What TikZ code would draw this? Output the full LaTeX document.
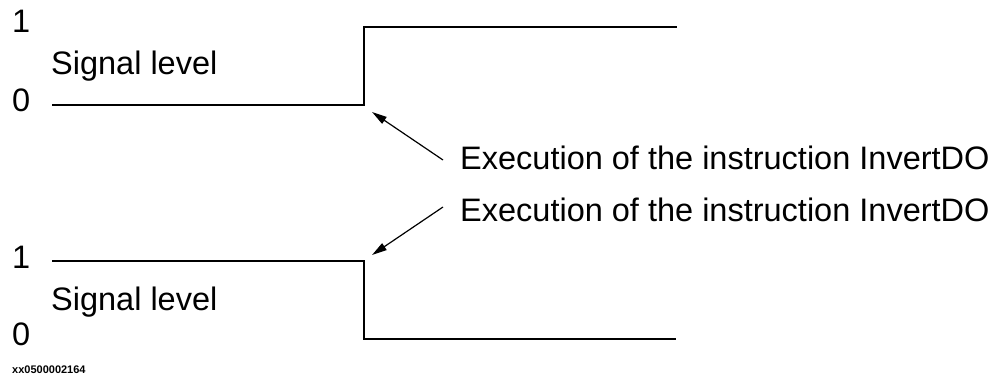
\documentclass[tikz,border=0pt]{standalone}
\usepackage{fontspec}
\setmainfont{Liberation Sans}
\usetikzlibrary{arrows.meta}
\begin{document}
\begin{tikzpicture}[x=1pt,y=-1pt,
  sig/.style={line width=2.6pt, line cap=butt, line join=miter},
  lbl/.style={inner sep=0pt, anchor=base west, font=\fontsize{32.5}{39}\selectfont},
  ptr/.style={line width=1.2pt, -{Triangle[length=15pt,width=8pt]}, shorten >=0pt}]
\useasboundingbox (0,0) rectangle (1004,385);
% top signal
\coordinate (a0) at (52,105);
\coordinate (a1) at (364,105);
\coordinate (a2) at (364,27);
\coordinate (a3) at (677,27);
\draw[sig] (a0) -- (a1) -- (a2) -- (a3);
% bottom signal
\coordinate (b0) at (52,261);
\coordinate (b1) at (364,261);
\coordinate (b2) at (364,339);
\coordinate (b3) at (676,339);
\draw[sig] (b0) -- (b1) -- (b2) -- (b3);
% labels
\node[lbl] (t1) at (12,33) {1};
\node[lbl] (ts) at (51,75) {Signal level};
\node[lbl] (t0) at (12,112) {0};
\node[lbl] (u1) at (12,268) {1};
\node[lbl] (us) at (51,310) {Signal level};
\node[lbl] (u0) at (12,345) {0};
\node[lbl] (e1) at (460,169) {Execution of the instruction InvertDO};
\node[lbl] (e2) at (460,221) {Execution of the instruction InvertDO};
\node[inner sep=0pt, anchor=base west, font=\fontsize{11}{13}\selectfont\bfseries] (id) at (12,373) {xx0500002164};
% pointers
\coordinate (p1) at (443,160);
\coordinate (q1) at (372,112);
\coordinate (p2) at (443,207);
\coordinate (q2) at (372,255);
\draw[ptr] (p1) -- (q1);
\draw[ptr] (p2) -- (q2);
\end{tikzpicture}
\end{document}
